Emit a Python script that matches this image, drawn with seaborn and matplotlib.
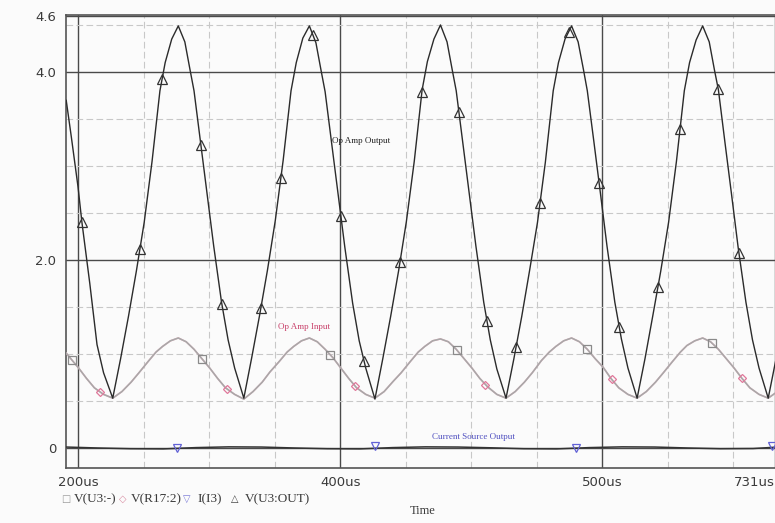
import matplotlib
matplotlib.use("Agg")
import matplotlib.pyplot as plt
import seaborn as sns
import pandas as pd

# ---------------- data ----------------
# V(U3:OUT)  - op amp output (time in us, volts)
out_t = [191.0, 195.0, 200.0, 203.0, 209.0, 214.5, 219.5,
         226.5, 232.5, 238.5, 244.5, 250.5, 256.5, 262.5, 266.5, 271.5, 276.5, 281.5, 285.5, 288.5, 293.5, 298.5, 303.5, 309.5, 314.5, 319.5,
         326.5, 332.5, 338.5, 344.5, 350.5, 356.5, 362.5, 366.5, 371.5, 376.5, 381.5, 385.5, 388.5, 393.5, 398.5, 403.5, 409.5, 414.5, 419.5,
         426.5, 432.5, 438.5, 444.5, 450.5, 456.5, 462.5, 466.5, 471.5, 476.5, 481.5, 485.5, 488.5, 493.5, 498.5, 503.5, 509.5, 514.5, 519.5,
         526.5, 532.5, 538.5, 544.5, 550.5, 556.5, 562.5, 566.5, 571.5, 576.5, 581.5, 585.5, 588.5, 593.5, 598.5, 603.5, 609.5, 614.5, 619.5,
         626.5, 632.5, 638.5, 644.5, 650.5, 656.5, 662.5, 666.5, 671.5, 676.5, 681.5, 685.5, 688.5, 693.5, 698.5, 703.5, 709.5, 714.5, 719.5,
         726.5, 732.5, 734.0]
out_v = [3.70, 3.30, 2.78, 2.40, 1.75, 1.10, 0.80,
         0.53, 0.95, 1.40, 1.88, 2.40, 3.05, 3.80, 4.10, 4.35, 4.49, 4.32, 4.02, 3.80, 3.25, 2.70, 2.15, 1.55, 1.15, 0.85,
         0.53, 0.96, 1.41, 1.89, 2.42, 3.06, 3.80, 4.10, 4.36, 4.49, 4.31, 4.01, 3.79, 3.24, 2.69, 2.14, 1.54, 1.14, 0.85,
         0.52, 0.95, 1.40, 1.88, 2.41, 3.05, 3.81, 4.11, 4.35, 4.50, 4.32, 4.02, 3.80, 3.25, 2.70, 2.15, 1.55, 1.15, 0.84,
         0.53, 0.95, 1.40, 1.89, 2.40, 3.04, 3.80, 4.10, 4.35, 4.49, 4.32, 4.03, 3.80, 3.26, 2.71, 2.15, 1.55, 1.16, 0.85,
         0.53, 0.95, 1.41, 1.88, 2.40, 3.05, 3.80, 4.10, 4.34, 4.49, 4.32, 4.02, 3.81, 3.25, 2.70, 2.14, 1.55, 1.15, 0.85,
         0.53, 0.95, 1.03]
out_mark_t = [203.0, 247.3, 264.1, 293.8, 309.8, 339.6, 354.8, 379.3, 400.6, 418.2, 445.6, 462.4,
              490.6, 512.0, 534.1, 552.4, 574.5, 597.4, 612.7, 642.4, 659.2, 688.2, 704.2]
out_mark_v = [2.40, 2.12, 3.92, 3.22, 1.53, 1.49, 2.87, 4.39, 2.47, 0.93, 1.98, 3.79,
              3.57, 1.35, 1.07, 2.61, 4.43, 2.82, 1.29, 1.71, 3.39, 3.82, 2.07]

# V(U3:-) and V(R17:2) - op amp input (same node)
in_t = [191.0, 194.5, 200.5, 206.5, 212.5, 219.5,
        226.5, 233.5, 240.5, 246.5, 253.5, 259.5, 264.5, 270.5, 276.5, 282.5, 288.5, 294.5, 300.5, 306.5, 312.5, 319.5,
        326.5, 333.5, 340.5, 346.5, 353.5, 359.5, 364.5, 370.5, 376.5, 382.5, 388.5, 394.5, 400.5, 406.5, 412.5, 419.5,
        426.5, 433.5, 440.5, 446.5, 453.5, 459.5, 464.5, 470.5, 476.5, 482.5, 488.5, 494.5, 500.5, 506.5, 512.5, 519.5,
        526.5, 533.5, 540.5, 546.5, 553.5, 559.5, 564.5, 570.5, 576.5, 582.5, 588.5, 594.5, 600.5, 606.5, 612.5, 619.5,
        626.5, 633.5, 640.5, 646.5, 653.5, 659.5, 664.5, 670.5, 676.5, 682.5, 688.5, 694.5, 700.5, 706.5, 712.5, 719.5,
        726.5, 733.5]
in_v = [1.01, 0.95, 0.85, 0.74, 0.64, 0.57,
        0.53, 0.60, 0.70, 0.80, 0.92, 1.02, 1.08, 1.14, 1.17, 1.13, 1.05, 0.95, 0.85, 0.74, 0.64, 0.57,
        0.52, 0.60, 0.70, 0.81, 0.92, 1.02, 1.08, 1.14, 1.17, 1.13, 1.05, 0.96, 0.85, 0.74, 0.64, 0.57,
        0.53, 0.60, 0.71, 0.80, 0.92, 1.02, 1.08, 1.14, 1.16, 1.13, 1.05, 0.95, 0.85, 0.74, 0.65, 0.57,
        0.53, 0.60, 0.70, 0.80, 0.93, 1.02, 1.08, 1.14, 1.17, 1.13, 1.05, 0.95, 0.86, 0.74, 0.64, 0.57,
        0.53, 0.60, 0.70, 0.80, 0.92, 1.02, 1.09, 1.14, 1.17, 1.13, 1.05, 0.95, 0.85, 0.74, 0.64, 0.57,
        0.53, 0.60]
in_sq_t = [195.4, 294.6, 392.2, 489.1, 588.3, 683.6]
in_sq_v = [0.94, 0.95, 0.99, 1.04, 1.05, 1.12]
r17_mark_t = [216.8, 313.7, 411.3, 510.5, 607.3, 706.5]
r17_mark_v = [0.60, 0.63, 0.66, 0.67, 0.73, 0.74]

# I(I3) - current source output
cur_t = [191, 215, 240, 265, 290, 315, 340, 365, 390, 415, 440, 465, 490, 515, 540, 565,
         590, 615, 640, 665, 690, 715, 734]
cur_v = [0.010, 0.000, -0.008, -0.010, 0.004, 0.012, 0.010, 0.000, -0.008, -0.010, 0.004, 0.012,
         0.010, 0.002, -0.008, -0.010, 0.004, 0.012, 0.010, 0.000, -0.008, -0.006, 0.010]
cur_mark_t = [275.5, 426.5, 579.9, 729.4]
cur_mark_v = [0.000, 0.020, -0.005, 0.020]

x_major = [200, 400, 600, 731.3]
x_labels = ["200us", "400us", "500us", "731us"]
x_minor = [250, 300, 350, 450, 500, 550, 650, 700]
y_major = [0, 2, 4, 4.6]
y_labels = ["0", "2.0", "4.0", "4.6"]
y_minor = [0.5, 1.0, 1.5, 2.5, 3.0, 3.5, 4.5]

legend_items = [("\u25a1", "V(U3:-)", "#9a9a9a"), ("\u25c7", "V(R17:2)", "#d88aa0"),
                ("\u25bd", "I(I3)", "#7a7ad8"), ("\u25b3", "V(U3:OUT)", "#404040")]

# ---------------- drawing ----------------
sns.set_theme(style="white")
plt.rcParams["font.family"] = ["DejaVu Sans"]

W, H = 775, 523
fig = plt.figure(figsize=(W / 100, H / 100), dpi=100, facecolor="#fbfbfb")
ax = fig.add_axes([66 / W, 1 - 468 / H, 712 / W, 453 / H])
ax.set_facecolor("#fbfbfb")

BLACK = "#2b2b2b"
GRAY = "#a8a8a8"
PINK = "#e0789a"
BLUE = "#6262d6"

df_out = pd.DataFrame({"t": out_t, "v": out_v})
df_in = pd.DataFrame({"t": in_t, "v": in_v})
df_cur = pd.DataFrame({"t": cur_t, "v": cur_v})

sns.lineplot(data=df_in, x="t", y="v", ax=ax, color="#e6b0c0", lw=1.2, estimator=None, sort=False, zorder=3)
sns.lineplot(data=df_in, x="t", y="v", ax=ax, color=GRAY, lw=1.1, estimator=None, sort=False, zorder=4)
sns.lineplot(data=df_cur, x="t", y="v", ax=ax, color="#333333", lw=1.1, estimator=None, sort=False, zorder=4)
sns.lineplot(data=df_out, x="t", y="v", ax=ax, color=BLACK, lw=1.0, estimator=None, sort=False, zorder=5)

def markers(tt, vv, m, col, size):
    sns.lineplot(x=tt, y=vv, ax=ax, estimator=None, sort=False, linestyle="none",
                 marker=m, markersize=size, markerfacecolor="none",
                 markeredgecolor=col, markeredgewidth=0.9, color=col, zorder=6)

markers(in_sq_t, in_sq_v, "s", "#8a8a8a", 6)
markers(r17_mark_t, r17_mark_v, "D", PINK, 4.5)
markers(cur_mark_t, cur_mark_v, "v", BLUE, 6)
markers(out_mark_t, out_mark_v, "^", "#333333", 6.5)

ax.set_xlim(190.85, 733.96)
ax.set_ylim(-0.213, 4.606)

ax.set_xticks(x_major)
ax.set_xticklabels(x_labels)
ax.set_xticks(x_minor, minor=True)
ax.set_yticks(y_major)
ax.set_yticklabels(y_labels)
ax.set_yticks(y_minor, minor=True)
ax.get_xticklabels()[-1].set_horizontalalignment("right")

ax.grid(which="major", color="#4a4a4a", lw=1.0, zorder=1)
ax.grid(which="minor", color="#c8c8c8", lw=0.8, ls=(0, (6, 3)), zorder=1)
ax.set_axisbelow(True)

ax.tick_params(which="major", direction="out", length=4, width=1, color="#555555",
               labelsize=9.5, labelcolor="#3a3a3a", pad=3)
ax.tick_params(which="minor", length=0)
ax.tick_params(axis="x", pad=2)
for s in ["left", "bottom", "top"]:
    ax.spines[s].set_visible(True)
    ax.spines[s].set_color("#555555")
    ax.spines[s].set_linewidth(1.2)
ax.spines["right"].set_visible(False)
ax.set_xlabel("")
ax.set_ylabel("")

serif = ["Liberation Serif", "DejaVu Serif"]
ax.text(393.7, 3.27, "Op Amp Output", fontsize=6.5, color="#222222", family=serif, ha="left", va="center", zorder=7)
ax.text(352.6, 1.29, "Op Amp Input", fontsize=6.5, color="#c8406a", family=serif, ha="left", va="center", zorder=7)
ax.text(470.0, 0.117, "Current Source Output", fontsize=6.5, color="#5050c0", family=serif, ha="left", va="center", zorder=7)

# legend row and axis title as text
pos = [(61, 74), (119, 131), (183, 197), (231, 245)]
for (sym, lab, col), (xs, xl) in zip(legend_items, pos):
    fig.text(xs / W, 1 - 499 / H, sym, fontsize=7, color=col, family=["DejaVu Sans"], ha="left", va="center")
    fig.text(xl / W, 1 - 499 / H, lab, fontsize=9.5, color="#3a3a3a", family=serif + ["DejaVu Sans"], ha="left", va="center")
fig.text(423 / W, 1 - 511 / H, "Time", fontsize=9, color="#3a3a3a", family=serif, ha="center", va="center")

fig.savefig("out.png", dpi=100, facecolor=fig.get_facecolor())
